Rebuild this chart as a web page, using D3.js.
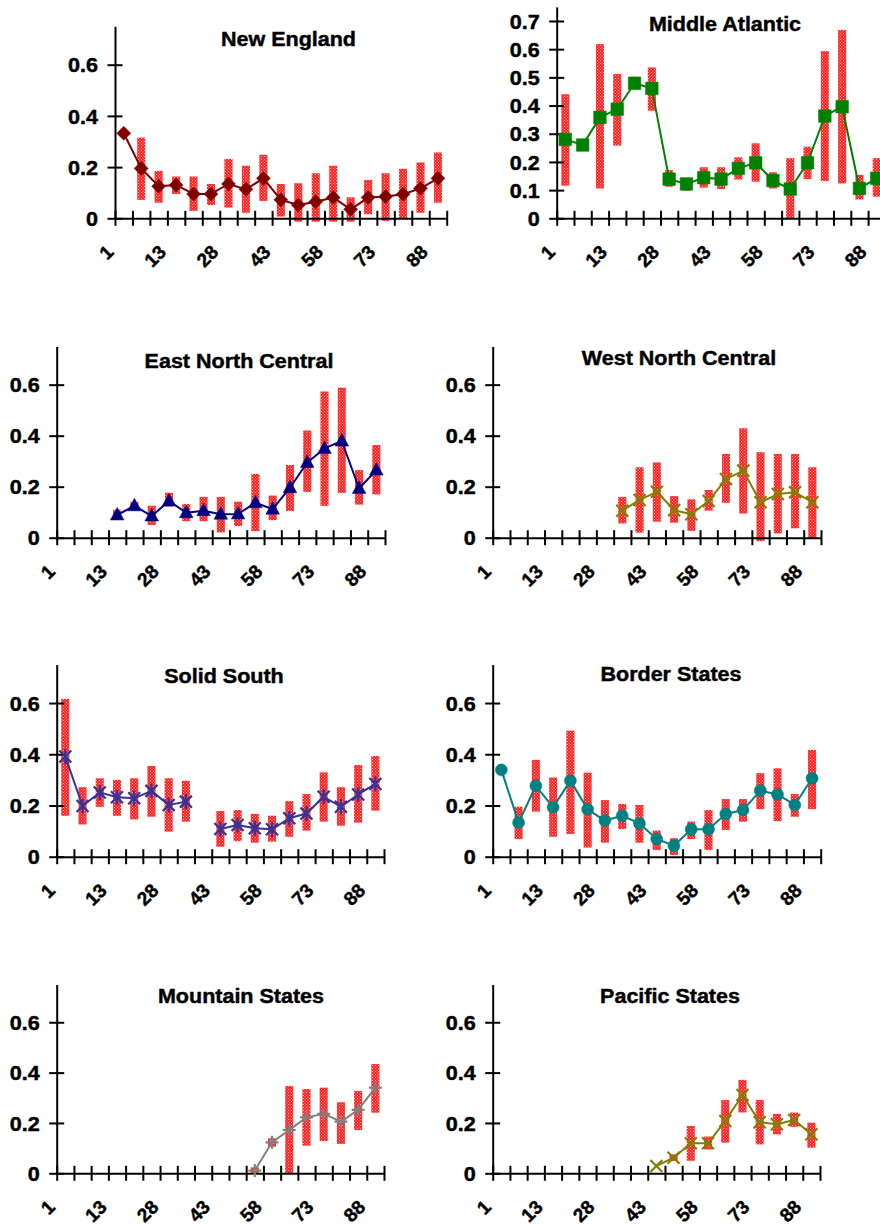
<!DOCTYPE html>
<html>
<head>
<meta charset="utf-8">
<script src="https://cdn.jsdelivr.net/npm/d3@7"></script>
<style>
  html, body { margin: 0; padding: 0; background: #fff; }
  svg { display: block; }
  text { font-family: Arial, "Liberation Sans", sans-serif; font-weight: bold; fill: #000; stroke: #000; stroke-width: 0.45px; }
</style>
</head>
<body>
<svg id="chart" width="880" height="1226"></svg>
<script>
// ---------------- DATA ----------------
const categories = ["1","5","9","13","18","23","28","33","38","43","48","53","58","63","68","73","78","83","88"];
const yTicksDefault = [0, 0.2, 0.4, 0.6];
const yTicksMidAtl = [0, 0.1, 0.2, 0.3, 0.4, 0.5, 0.6, 0.7];

const newEnglandMean = [0.332,0.195,0.125,0.130,0.095,0.095,0.134,0.113,0.156,0.072,0.052,0.065,0.081,0.035,0.081,0.085,0.094,0.117,0.156];
const newEnglandLow  = [null,0.072,0.061,0.095,0.029,0.052,0.042,0.022,0.068,0.007,-0.013,-0.013,-0.013,-0.013,0.016,-0.010,-0.003,0.022,0.061];
const newEnglandHigh = [null,0.315,0.185,0.163,0.163,0.134,0.232,0.205,0.248,0.134,0.137,0.176,0.205,0.082,0.150,0.176,0.193,0.218,0.257];

const midAtlanticMean = [0.280,0.260,0.358,0.387,0.479,0.461,0.139,0.122,0.144,0.139,0.177,0.197,0.134,0.104,0.197,0.363,0.396,0.106,0.142];
const midAtlanticLow  = [0.116,null,0.106,0.258,0.460,0.382,0.112,0.098,0.109,0.104,0.138,0.130,0.106,0.000,0.139,0.132,0.124,0.067,0.077];
const midAtlanticHigh = [0.440,null,0.618,0.512,0.502,0.535,0.171,0.135,0.181,0.181,0.216,0.266,0.163,0.213,0.254,0.593,0.668,0.154,0.213];

const eastNorthCentralMean = [null,null,null,0.089,0.125,0.085,0.144,0.098,0.106,0.092,0.093,0.137,0.112,0.196,0.295,0.350,0.379,0.193,0.265];
const eastNorthCentralLow  = [null,null,null,0.080,0.108,0.050,0.122,0.065,0.065,0.021,0.046,0.026,0.069,0.105,0.180,0.125,0.176,0.130,0.170];
const eastNorthCentralHigh = [null,null,null,0.110,0.140,0.125,0.176,0.132,0.160,0.160,0.141,0.250,0.165,0.285,0.420,0.573,0.588,0.265,0.363];

const westNorthCentralMean = [null,null,null,null,null,null,null,0.106,0.148,0.180,0.108,0.092,0.144,0.230,0.263,0.139,0.171,0.178,0.139];
const westNorthCentralLow  = [null,null,null,null,null,null,null,0.056,0.020,0.063,0.059,0.027,0.106,0.137,0.095,-0.013,0.017,0.037,-0.005];
const westNorthCentralHigh = [null,null,null,null,null,null,null,0.160,0.276,0.295,0.163,0.150,0.187,0.328,0.429,0.335,0.328,0.328,0.276];

const solidSouthMean = [0.391,0.198,0.251,0.232,0.228,0.257,0.202,0.215,null,0.108,0.124,0.111,0.107,0.150,0.169,0.234,0.195,0.243,0.284];
const solidSouthLow  = [0.160,0.126,0.195,0.160,0.146,0.156,0.098,0.137,null,0.039,0.061,0.055,0.059,0.078,0.102,0.137,0.121,0.133,0.180];
const solidSouthHigh = [0.616,0.271,0.306,0.300,0.306,0.354,0.306,0.296,null,0.178,0.182,0.167,0.160,0.217,0.245,0.329,0.271,0.358,0.393];

const borderStatesMean = [0.339,0.133,0.277,0.193,0.297,0.185,0.141,0.160,0.130,0.069,0.043,0.107,0.107,0.167,0.182,0.258,0.243,0.202,0.306];
const borderStatesLow  = [null,0.069,0.176,0.078,0.089,0.036,0.055,0.108,0.055,0.026,0.007,0.069,0.026,0.104,0.137,0.186,0.139,0.156,0.186];
const borderStatesHigh = [null,0.195,0.378,0.309,0.492,0.328,0.221,0.206,0.202,0.102,0.072,0.137,0.182,0.225,0.225,0.326,0.345,0.245,0.417];

const mountainStatesMean = [null,null,null,null,null,null,null,null,null,null,null,0.011,0.123,0.172,0.222,0.236,0.205,0.252,0.340];
const mountainStatesLow  = [null,null,null,null,null,null,null,null,null,null,null,0.000,0.106,0.000,0.110,0.128,0.117,0.172,0.241];
const mountainStatesHigh = [null,null,null,null,null,null,null,null,null,null,null,0.024,0.139,0.347,0.335,0.340,0.282,0.327,0.434];

const pacificStatesMean = [null,null,null,null,null,null,null,null,null,0.029,0.062,0.119,0.119,0.208,0.311,0.203,0.195,0.212,0.155];
const pacificStatesLow  = [null,null,null,null,null,null,null,null,null,null,0.049,0.050,0.095,0.122,0.242,0.115,0.155,0.185,0.102];
const pacificStatesHigh = [null,null,null,null,null,null,null,null,null,null,0.075,0.188,0.146,0.291,0.371,0.291,0.236,0.241,0.201];

// ---------------- LAYOUT ----------------
const panels = [
  {title:"New England", mean:newEnglandMean, low:newEnglandLow, high:newEnglandHigh, ticks:yTicksDefault,
   left:115, right:446.7, y0:218.3, yTop:26.3, tx:288.5, ty:46, color:"#800000", marker:"diamond"},
  {title:"Middle Atlantic", mean:midAtlanticMean, low:midAtlanticLow, high:midAtlanticHigh, ticks:yTicksMidAtl,
   left:556.7, right:885.4, y0:218.3, yTop:6.9, tx:725, ty:31, color:"#008000", marker:"square"},
  {title:"East North Central", mean:eastNorthCentralMean, low:eastNorthCentralLow, high:eastNorthCentralHigh, ticks:yTicksDefault,
   left:56.7, right:385, y0:537.7, yTop:346.4, tx:239, ty:367.5, color:"#000080", marker:"triangle"},
  {title:"West North Central", mean:westNorthCentralMean, low:westNorthCentralLow, high:westNorthCentralHigh, ticks:yTicksDefault,
   left:492.7, right:821, y0:537.7, yTop:346.4, tx:679, ty:365, color:"#808000", marker:"x"},
  {title:"Solid South", mean:solidSouthMean, low:solidSouthLow, high:solidSouthHigh, ticks:yTicksDefault,
   left:56.7, right:384, y0:856.7, yTop:664.6, tx:224, ty:683.3, color:"#333399", marker:"asterisk"},
  {title:"Border States", mean:borderStatesMean, low:borderStatesLow, high:borderStatesHigh, ticks:yTicksDefault,
   left:492.7, right:820.7, y0:856.7, yTop:664.6, tx:671, ty:680.7, color:"#008080", marker:"circle"},
  {title:"Mountain States", mean:mountainStatesMean, low:mountainStatesLow, high:mountainStatesHigh, ticks:yTicksDefault,
   left:56.7, right:384, y0:1173.3, yTop:984.5, tx:241, ty:1002.7, color:"#808080", marker:"plus"},
  {title:"Pacific States", mean:pacificStatesMean, low:pacificStatesLow, high:pacificStatesHigh, ticks:yTicksDefault,
   left:492.7, right:820, y0:1173.3, yTop:984.5, tx:670, ty:1003.3, color:"#808000", marker:"x"}
];

const svg = d3.select("#chart");

// stipple pattern for the range bars
const defs = svg.append("defs");
const pat = defs.append("pattern").attr("id","stipple").attr("patternUnits","userSpaceOnUse")
  .attr("width",3).attr("height",3);
pat.append("rect").attr("x",0).attr("y",0).attr("width",1).attr("height",1).attr("fill","#ffb0b0");
pat.append("rect").attr("x",1.5).attr("y",1.5).attr("width",1).attr("height",1).attr("fill","#ff8a8a");

const markerPaths = {
  diamond: "M0,-7L7,0L0,7L-7,0Z",
  square: "M-6.3,-6.3H6.3V6.3H-6.3Z",
  triangle: "M0,-7.5L6.8,5H-6.8Z",
  circle: d3.symbol(d3.symbolCircle, Math.PI*6*6)(),
  x: "M-6,-6L6,6M-6,6L6,-6",
  asterisk: "M-6,-6L6,6M-6,6L6,-6M0,-7.5V7.5",
  plus: "M-6.5,0H6.5M0,-6.5V6.5"
};
const strokeMarkers = new Set(["x","asterisk","plus"]);

panels.forEach(p => {
  const g = svg.append("g");
  const x = d3.scaleBand().domain(categories).range([p.left, p.right]).padding(0);
  const xEdge = d3.scaleLinear().domain([0, categories.length]).range([p.left, p.right]);
  const y = d3.scaleLinear().domain([0, 0.75]).range([p.y0, p.yTop]);
  const cx = i => x(categories[i]) + x.bandwidth()/2;

  // range bars
  const barData = categories.map((c,i)=>({i, lo:p.low[i], hi:p.high[i]})).filter(d=>d.lo!=null && d.hi!=null);
  const bars = g.append("g").selectAll("g").data(barData).join("g");
  bars.append("rect")
    .attr("x", d => cx(d.i) - 4).attr("width", 8)
    .attr("y", d => y(d.hi)).attr("height", d => Math.max(1, y(d.lo) - y(d.hi)))
    .attr("fill", "#ff2424");
  bars.append("rect")
    .attr("x", d => cx(d.i) - 4).attr("width", 8)
    .attr("y", d => y(d.hi)).attr("height", d => Math.max(1, y(d.lo) - y(d.hi)))
    .attr("fill", "url(#stipple)");

  // y axis
  const ya = g.append("g").attr("transform", `translate(${p.left},0)`)
    .call(d3.axisLeft(y).tickValues(p.ticks).tickSizeOuter(0).tickSizeInner(7).tickPadding(10)
      .tickFormat(d => d === 0 ? "0" : d3.format(".1f")(d)));
  ya.select(".domain").attr("stroke","#000").attr("stroke-width",2);
  ya.selectAll(".tick line").attr("x1",-7.5).attr("x2",7.5).attr("stroke","#000").attr("stroke-width",2);
  ya.selectAll(".tick text").attr("font-size",20).attr("font-weight","bold")
    .attr("font-family","Arial, 'Liberation Sans', sans-serif").attr("fill","#000")
    .attr("dy","0.36em")
    .attr("transform","scale(1.08,1)")
    .attr("x", -17/1.08);

  // x axis (ticks between categories)
  const xa = g.append("g").attr("transform", `translate(0,${p.y0})`)
    .call(d3.axisBottom(xEdge).tickValues(d3.range(categories.length+1)).tickSizeOuter(0).tickSizeInner(7).tickFormat(""));
  xa.select(".domain").attr("stroke","#000").attr("stroke-width",2);
  xa.selectAll(".tick line").attr("y1",-7.5).attr("y2",7.5).attr("stroke","#000").attr("stroke-width",2);

  // x labels every 3rd category, rotated
  g.append("g").selectAll("text").data(categories.map((c,i)=>({c,i})).filter(d=>d.i%3===0)).join("text")
    .attr("text-anchor","end")
    .attr("font-size",19)
    .attr("transform", d => `translate(${cx(d.i)-9},${p.y0+35}) rotate(-45)`)
    .text(d => d.c);

  // line
  const pts = categories.map((c,i)=>({i, v:p.mean[i]}));
  const line = d3.line().defined(d=>d.v!=null).x(d=>cx(d.i)).y(d=>y(d.v));
  g.append("path").datum(pts).attr("d", line).attr("fill","none")
    .attr("stroke", p.color).attr("stroke-width", 2).attr("stroke-linejoin","round");

  // markers
  const isStroke = strokeMarkers.has(p.marker);
  g.append("g").selectAll("path").data(pts.filter(d=>d.v!=null)).join("path")
    .attr("transform", d => `translate(${cx(d.i)},${y(d.v)})`)
    .attr("d", markerPaths[p.marker])
    .attr("fill", isStroke ? "none" : p.color)
    .attr("stroke", p.color)
    .attr("stroke-width", isStroke ? 2.2 : 0.5);

  // title
  g.append("text").attr("text-anchor","middle")
    .attr("font-size",20.5)
    .attr("transform",`translate(${p.tx},${p.ty}) scale(1.05,1)`)
    .text(p.title);
});
</script>
</body>
</html>
